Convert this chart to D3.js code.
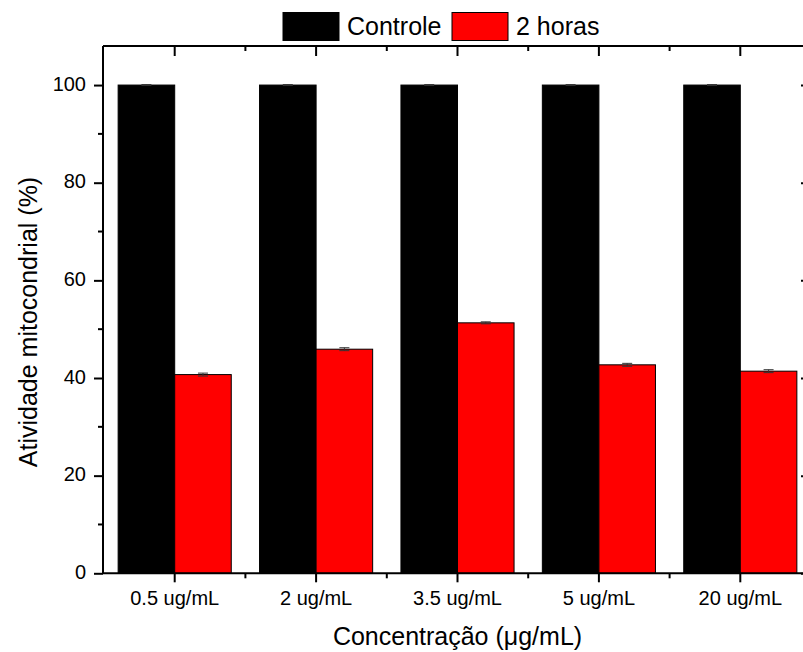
<!DOCTYPE html>
<html>
<head>
<meta charset="utf-8">
<script src="https://cdn.jsdelivr.net/npm/d3@7"></script>
<style>
  body { margin: 0; background: #fff; }
  svg { display: block; font-family: Arial, "Liberation Sans", sans-serif; }
  .axis path, .axis line { stroke: #000; stroke-width: 2; }
</style>
</head>
<body>
<div id="chart"></div>
<script>
// Data
var categories = ["0.5 ug/mL", "2 ug/mL", "3.5 ug/mL", "5 ug/mL", "20 ug/mL"];
var controle = [100, 100, 100, 100, 100];
var duasHoras = [40.7, 45.9, 51.3, 42.7, 41.4];
var controleErr = [0.1, 0.1, 0.1, 0.1, 0.1];
var duasHorasErr = [0.3, 0.3, 0.2, 0.3, 0.3];
var seriesNames = ["Controle", "2 horas"];
var seriesColors = ["#000000", "#ff0000"];
var yMajorTicks = [0, 20, 40, 60, 80, 100];
var yMinorTicks = [10, 30, 50, 70, 90];

var W = 803, H = 652;
// plot frame (window.top is reserved, so use plot* names)
var plotLeft = 104, plotRight = 811, plotTop = 46, plotBottom = 573.3;

var svg = d3.select("#chart")
  .append("svg")
  .attr("width", W)
  .attr("height", H);

var x = d3.scaleBand()
  .domain(categories)
  .range([plotLeft, plotRight])
  .paddingInner(0.2)
  .paddingOuter(0.1);

var sub = d3.scaleBand()
  .domain(seriesNames)
  .range([0, x.bandwidth()]);

var y = d3.scaleLinear()
  .domain([0, 108])
  .range([plotBottom, plotTop]);

// build rows for the bars
var rows = [];
categories.forEach(function(c, i) {
  rows.push({ cat: c, s: 0, v: controle[i], e: controleErr[i] });
  rows.push({ cat: c, s: 1, v: duasHoras[i], e: duasHorasErr[i] });
});

svg.selectAll(".bar")
  .data(rows)
  .enter().append("rect")
  .attr("class", "bar")
  .attr("x", function(d) { return x(d.cat) + sub(seriesNames[d.s]); })
  .attr("y", function(d) { return y(d.v); })
  .attr("width", sub.bandwidth())
  .attr("height", function(d) { return y(0) - y(d.v); })
  .style("fill", function(d) { return seriesColors[d.s]; })
  .style("stroke", "#000")
  .style("stroke-width", 1);

// tiny error bar caps
svg.selectAll(".err")
  .data(rows)
  .enter().append("path")
  .attr("class", "err")
  .attr("d", function(d) {
    var cx = x(d.cat) + sub(seriesNames[d.s]) + sub.bandwidth() / 2;
    var y1 = y(d.v + d.e), y2 = y(d.v - d.e);
    return "M" + (cx - 5) + "," + y1 + "H" + (cx + 5) +
      "M" + cx + "," + y1 + "V" + y2 +
      "M" + (cx - 5) + "," + y2 + "H" + (cx + 5);
  })
  .style("stroke", "#333")
  .style("stroke-width", 1)
  .style("fill", "none");

// minor x positions: midway between groups
var xCenters = categories.map(function(c) { return x(c) + x.bandwidth() / 2; });
var xMinor = [];
for (var i = 0; i < xCenters.length - 1; i++) {
  xMinor.push((xCenters[i] + xCenters[i + 1]) / 2);
}

// bottom axis
var xAxis = svg.append("g")
  .attr("class", "axis")
  .attr("transform", "translate(0," + plotBottom + ")")
  .call(d3.axisBottom(x).tickSize(9).tickPadding(9).tickSizeOuter(0));
xAxis.select(".domain").attr("d", "M" + (plotLeft - 1) + ",0H" + plotRight);
xAxis.selectAll("text")
  .style("font-size", "20px")
  .style("font-family", "Arial, 'Liberation Sans', sans-serif")
  .style("fill", "#000");
xAxis.selectAll(".minor")
  .data(xMinor)
  .enter().append("line")
  .attr("class", "minor")
  .attr("x1", function(d) { return d; })
  .attr("x2", function(d) { return d; })
  .attr("y1", 0)
  .attr("y2", 5);

// top axis (ticks inside, no labels)
var xTop = svg.append("g")
  .attr("class", "axis")
  .attr("transform", "translate(0," + plotTop + ")")
  .call(d3.axisBottom(x).tickSize(10).tickFormat("").tickSizeOuter(0));
xTop.select(".domain").attr("d", "M" + (plotLeft - 1) + ",0H" + plotRight);
xTop.selectAll(".minor")
  .data(xMinor)
  .enter().append("line")
  .attr("class", "minor")
  .attr("x1", function(d) { return d; })
  .attr("x2", function(d) { return d; })
  .attr("y1", 0)
  .attr("y2", 5);

// left axis
var yAxis = svg.append("g")
  .attr("class", "axis")
  .attr("transform", "translate(" + (plotLeft - 1) + ",0)")
  .call(d3.axisLeft(y).tickValues(yMajorTicks).tickSize(9).tickPadding(8).tickSizeOuter(0));
yAxis.select(".domain").attr("d", "M0," + plotBottom + "V" + plotTop);
yAxis.selectAll("text")
  .attr("dy", "0.25em")
  .style("font-size", "20px")
  .style("font-family", "Arial, 'Liberation Sans', sans-serif")
  .style("fill", "#000");
yAxis.selectAll(".minor")
  .data(yMinorTicks)
  .enter().append("line")
  .attr("class", "minor")
  .attr("x1", -5)
  .attr("x2", 0)
  .attr("y1", function(d) { return y(d); })
  .attr("y2", function(d) { return y(d); });

// right axis (ticks inside, no labels)
var yRight = svg.append("g")
  .attr("class", "axis")
  .attr("transform", "translate(" + plotRight + ",0)")
  .call(d3.axisLeft(y).tickValues(yMajorTicks).tickSize(10).tickFormat("").tickSizeOuter(0));
yRight.select(".domain").attr("d", "M0," + plotBottom + "V" + plotTop);
yRight.selectAll(".minor")
  .data(yMinorTicks)
  .enter().append("line")
  .attr("class", "minor")
  .attr("x1", -5)
  .attr("x2", 0)
  .attr("y1", function(d) { return y(d); })
  .attr("y2", function(d) { return y(d); });

// axis titles
svg.append("text")
  .attr("x", (plotLeft + plotRight) / 2)
  .attr("y", 645)
  .style("text-anchor", "middle")
  .style("font-size", "25px")
  .style("fill", "#000")
  .text("Concentração (\u03BCg/mL)");

svg.append("text")
  .attr("transform", "translate(37,322) rotate(-90)")
  .style("text-anchor", "middle")
  .style("font-size", "25px")
  .style("fill", "#000")
  .text("Atividade mitocondrial (%)");

// legend
var legendX = [283, 452];
var legend = svg.selectAll(".legend")
  .data(seriesNames)
  .enter().append("g")
  .attr("class", "legend")
  .attr("transform", function(d, i) { return "translate(" + legendX[i] + ",12.5)"; });

legend.append("rect")
  .attr("width", 56)
  .attr("height", 28)
  .style("fill", function(d, i) { return seriesColors[i]; })
  .style("stroke", "#000")
  .style("stroke-width", 1);

legend.append("text")
  .attr("x", 64)
  .attr("y", 22.5)
  .style("font-size", "25px")
  .style("fill", "#000")
  .text(function(d) { return d; });
</script>
</body>
</html>
